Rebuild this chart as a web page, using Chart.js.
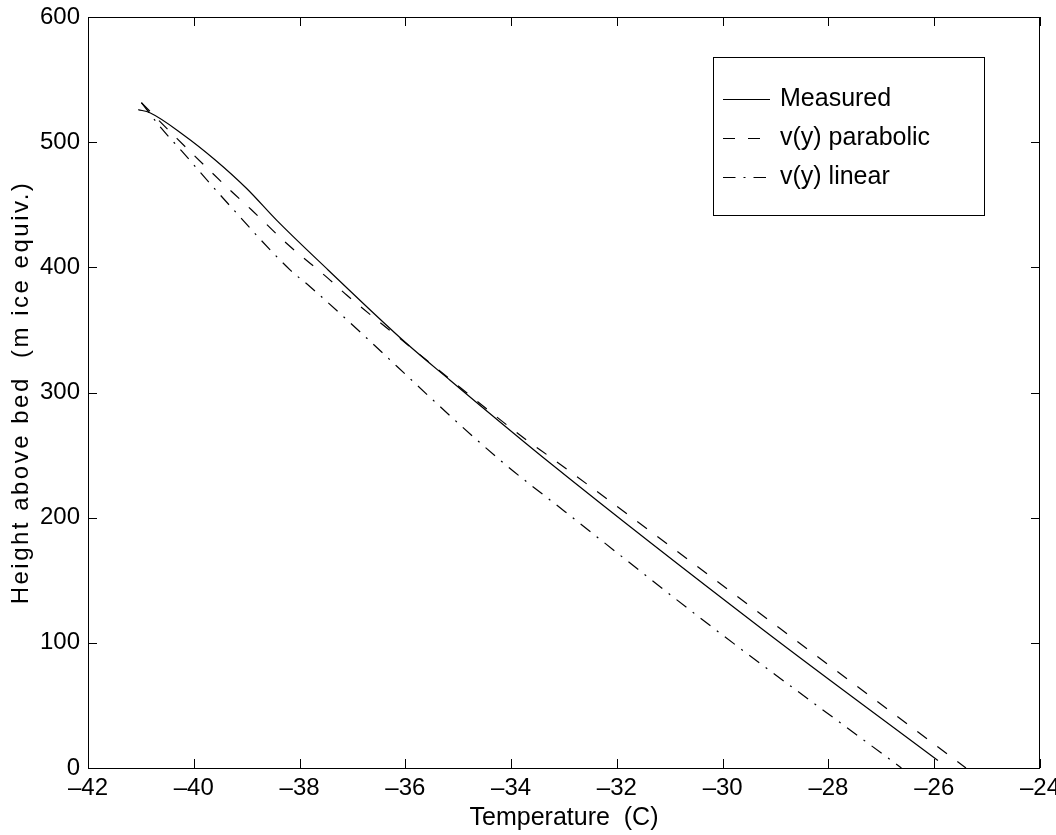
<!DOCTYPE html>
<html><head><meta charset="utf-8">
<script src="https://cdn.jsdelivr.net/npm/chart.js@4/dist/chart.umd.min.js"></script>
<style>html,body{margin:0;padding:0;background:#fff}#wrap{width:1056px;height:835px}</style>
</head><body><div id="wrap"><canvas id="c" width="1056" height="835"></canvas></div>
<script>
// ---- data ----
const xTickValues = [-42, -40, -38, -36, -34, -32, -30, -28, -26, -24];
const yTickValues = [0, 100, 200, 300, 400, 500, 600];
const seriesLabels = ['Measured', 'v(y) parabolic', 'v(y) linear'];
const xTitle = 'Temperature  (C)';
const yTitle = 'Height above bed  (m ice equiv.)';

const measuredT = [-41.05, -40.83, -40.2, -39.6, -39.0, -38.43, -37.46, -35.98, -35.16, -33.27, -29.23, -25.93];
const measuredH = [526, 523.5, 506, 486, 463, 437.5, 397.9, 339.3, 310, 243.9, 110.3, 6];

const parabolicT = [-40.99, -40.32, -39.28, -38.91, -38.21, -37.46, -37.11, -35.98, -33.71, -33.27, -28.92, -25.40];
const parabolicH = [531.5, 503, 460.4, 446, 417.8, 391.2, 377.9, 339, 262, 248.7, 111.6, 0];

const linearT = [-40.99, -40.61, -40.23, -39.44, -38.18, -37.80, -34.21, -32.98, -30.21, -26.62];
const linearH = [531.5, 511, 493, 455, 398, 384.5, 246, 204.8, 112.9, 0];

// ---- build ----
const FONT = "'Liberation Sans', Arial, Helvetica, sans-serif";
const pts = (xs, ys) => xs.map((x, i) => ({x: x, y: ys[i]}));
const fmt = v => String(v).replace('-', '\u2013');

const dashStyles = [[], [12, 13], [12.5, 8, 2, 8]];

const boxPlugin = {
  id: 'boxAndTicks',
  afterDraw(chart) {
    const {ctx, chartArea: ca, scales} = chart;
    ctx.save();
    ctx.strokeStyle = '#000';
    ctx.lineWidth = 1;
    ctx.setLineDash([]);
    ctx.strokeRect(ca.left + 0.5, ca.top + 0.5, ca.right - ca.left - 1, ca.bottom - ca.top);
    const tl = 9;
    ctx.beginPath();
    xTickValues.forEach(v => {
      const px = Math.round(scales.x.getPixelForValue(v)) + 0.5;
      ctx.moveTo(px, ca.bottom); ctx.lineTo(px, ca.bottom - tl);
      ctx.moveTo(px, ca.top); ctx.lineTo(px, ca.top + tl);
    });
    yTickValues.forEach(v => {
      const py = Math.round(scales.y.getPixelForValue(v)) + 0.5;
      ctx.moveTo(ca.left, py); ctx.lineTo(ca.left + tl, py);
      ctx.moveTo(ca.right, py); ctx.lineTo(ca.right - tl, py);
    });
    ctx.stroke();

    // y axis title (rotated, slightly spaced like the reference)
    ctx.save();
    ctx.translate(21, (ca.top + ca.bottom) / 2);
    ctx.rotate(-Math.PI / 2);
    ctx.font = '24px ' + FONT;
    ctx.fillStyle = '#000';
    ctx.textBaseline = 'middle';
    ctx.textAlign = 'center';
    if ('letterSpacing' in ctx) {
      ctx.letterSpacing = '2.5px';
      ctx.fillText(yTitle, 0, 0);
    } else {
      ctx.scale(1.22, 1);
      ctx.fillText(yTitle, 0, 0);
    }
    ctx.restore();

    // legend box inside the plot area (top-right)
    const bx = ca.right - 327, by = ca.top + 40, bw = 271, bh = 158;
    ctx.fillStyle = '#fff';
    ctx.fillRect(bx, by, bw, bh);
    ctx.strokeRect(bx + 0.5, by + 0.5, bw, bh);
    ctx.font = '25px ' + FONT;
    ctx.textBaseline = 'middle';
    ctx.textAlign = 'left';
    chart.data.datasets.forEach((ds, i) => {
      const ly = Math.round(by + 42 + i * 39) + 0.5;
      ctx.setLineDash(ds.borderDash || []);
      ctx.beginPath();
      ctx.moveTo(bx + 10, ly); ctx.lineTo(bx + 57, ly);
      ctx.stroke();
      ctx.setLineDash([]);
      ctx.fillStyle = '#000';
      ctx.fillText(ds.label, bx + 67, ly);
    });
    ctx.restore();
  }
};

const datasets = [
  {label: seriesLabels[0], data: pts(measuredT, measuredH), borderDash: dashStyles[0]},
  {label: seriesLabels[1], data: pts(parabolicT, parabolicH), borderDash: dashStyles[1]},
  {label: seriesLabels[2], data: pts(linearT, linearH), borderDash: dashStyles[2]}
].map(d => Object.assign(d, {
  showLine: true, borderColor: '#000', backgroundColor: '#000', borderWidth: 1.2,
  pointRadius: 0, cubicInterpolationMode: 'monotone', fill: false
}));

function fixPad(scale) {
  scale.paddingLeft = 0; scale.paddingRight = 0; scale.paddingTop = 0; scale.paddingBottom = 0;
}

new Chart(document.getElementById('c'), {
  type: 'scatter',
  data: {datasets},
  options: {
    responsive: false, animation: false, devicePixelRatio: 1,
    layout: {padding: {top: 17, right: 16, left: 0, bottom: 0}},
    plugins: {legend: {display: false}, tooltip: {enabled: false}},
    scales: {
      x: {
        type: 'linear', min: -42, max: -24,
        afterBuildTicks: s => { s.ticks = xTickValues.map(v => ({value: v})); },
        afterFit: s => { s.height = 67; fixPad(s); },
        ticks: {color: '#000', font: {family: FONT, size: 24}, padding: 6, callback: fmt, maxRotation: 0, autoSkip: false},
        grid: {display: false, drawTicks: false},
        border: {display: false},
        title: {display: true, text: xTitle, color: '#000', font: {family: FONT, size: 25}, padding: {top: 0, bottom: 2}}
      },
      y: {
        type: 'linear', min: 0, max: 600,
        afterBuildTicks: s => { s.ticks = yTickValues.map(v => ({value: v})); },
        afterFit: s => { s.width = 88; fixPad(s); },
        ticks: {color: '#000', font: {family: FONT, size: 24}, padding: 8, autoSkip: false},
        grid: {display: false, drawTicks: false},
        border: {display: false},
        title: {display: false}
      }
    }
  },
  plugins: [boxPlugin]
});
</script>
</body></html>
